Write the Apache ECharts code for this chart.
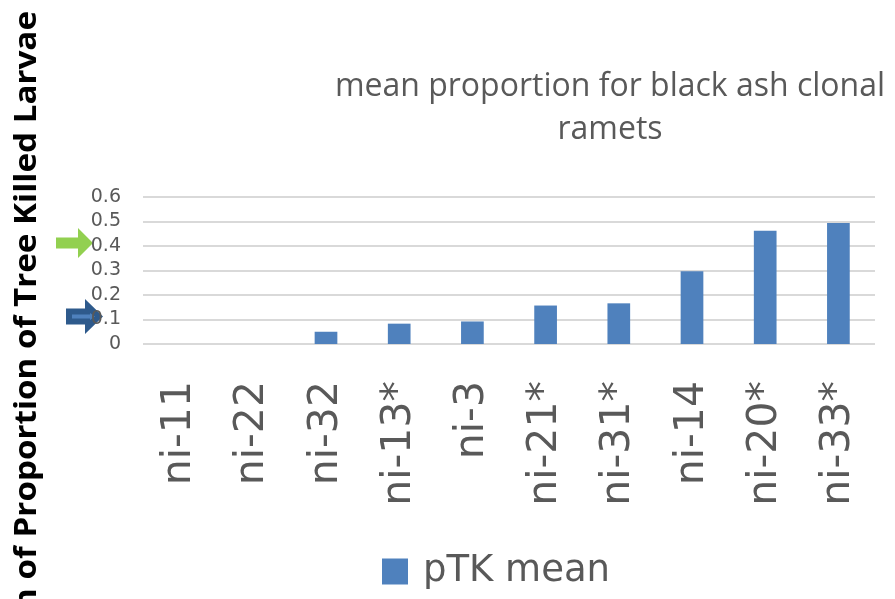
<!DOCTYPE html>
<html>
<head>
<meta charset="utf-8">
<style>
  html, body { margin: 0; padding: 0; background: #ffffff; }
  #chart { width: 895px; height: 599px; }
</style>
<script src="https://cdn.jsdelivr.net/npm/echarts@6/dist/echarts.min.js"></script>
</head>
<body>
<div id="chart"></div>
<script>
// Clone labels (asterisk marks the flagged clones)
const clones = ['ni-11', 'ni-22', 'ni-32', 'ni-13*', 'ni-3', 'ni-21*', 'ni-31*', 'ni-14', 'ni-20*', 'ni-33*'];
// Mean proportion of tree-killed larvae per clone
const pTKMean = [0, 0, 0.05, 0.083, 0.092, 0.157, 0.166, 0.297, 0.462, 0.494];
// Value axis ticks
const yTicks = [0, 0.1, 0.2, 0.3, 0.4, 0.5, 0.6];
// Reference levels flagged by the side arrows
const greenLevel = 0.4;
const blueLevel = 0.1;

const GREY = '#595959';
const WIDE = '"DejaVu Sans", sans-serif';

const chart = echarts.init(document.getElementById('chart'), null, { renderer: 'canvas' });

chart.setOption({
  animation: false,
  backgroundColor: '#ffffff',
  title: {
    text: 'mean proportion for black ash clonal\nramets',
    left: 605,
    top: 60,
    textAlign: 'center',
    textStyle: {
      fontFamily: '"Open Sans", sans-serif',
      fontWeight: 'normal',
      fontSize: 32,
      lineHeight: 43,
      color: GREY
    }
  },
  grid: { left: 143, right: 20, top: 197, bottom: 255, containLabel: false },
  legend: {
    data: ['pTK mean'],
    left: 377,
    top: 548,
    icon: 'rect',
    itemWidth: 26,
    itemHeight: 26,
    textStyle: { fontFamily: WIDE, fontSize: 37, color: GREY, padding: [0, 0, 0, 10] }
  },
  xAxis: {
    type: 'category',
    data: clones,
    axisLine: { show: false },
    axisTick: { show: false },
    axisLabel: {
      rotate: 90,
      margin: 37,
      fontFamily: WIDE,
      fontSize: 41,
      color: GREY,
      interval: 0
    }
  },
  yAxis: {
    type: 'value',
    min: yTicks[0],
    max: yTicks[yTicks.length - 1],
    interval: 0.1,
    axisLine: { show: false },
    axisTick: { show: false },
    axisLabel: {
      margin: 22,
      fontFamily: WIDE,
      fontSize: 19,
      color: GREY,
      formatter: v => String(Math.round(v * 10) / 10)
    },
    splitLine: { lineStyle: { color: '#d9d9d9', width: 2 } }
  },
  series: [{
    name: 'pTK mean',
    type: 'bar',
    data: pTKMean,
    barWidth: '31%',
    itemStyle: { color: '#4f81bd' }
  }]
});

// Right-pointing block arrow with its tip at (tipX, tipY)
function arrowPoints(tipX, tipY, len, shaftH, headH, headLen) {
  const x0 = tipX - len;
  const hx = tipX - headLen;
  return [
    [x0, tipY - shaftH / 2], [hx, tipY - shaftH / 2], [hx, tipY - headH / 2],
    [tipX, tipY], [hx, tipY + headH / 2], [hx, tipY + shaftH / 2], [x0, tipY + shaftH / 2]
  ];
}

const gY = chart.convertToPixel({ yAxisIndex: 0 }, greenLevel) - 3;
const bY = chart.convertToPixel({ yAxisIndex: 0 }, blueLevel) - 3;

chart.setOption({
  graphic: [
    {
      type: 'text',
      x: 27,
      y: 11,
      rotation: Math.PI / 2,
      scaleX: 1.07,
      style: {
        text: 'Mean of Proportion of Tree Killed Larvae',
        fontFamily: '"Open Sans", sans-serif',
        fontWeight: 'bold',
        fontSize: 31,
        fill: '#000000',
        textAlign: 'right',
        textVerticalAlign: 'middle'
      }
    },
    {
      type: 'polygon',
      shape: { points: arrowPoints(93, gY, 37, 11, 30, 15) },
      style: { fill: '#92d050' }
    },
    {
      type: 'polygon',
      shape: { points: arrowPoints(103, bY, 37, 16, 35, 18) },
      style: { fill: '#2e5a8c' }
    },
    {
      type: 'polygon',
      shape: { points: arrowPoints(95, bY, 23, 4, 7, 5) },
      style: { fill: '#4f81bd' }
    }
  ]
});
</script>
</body>
</html>
